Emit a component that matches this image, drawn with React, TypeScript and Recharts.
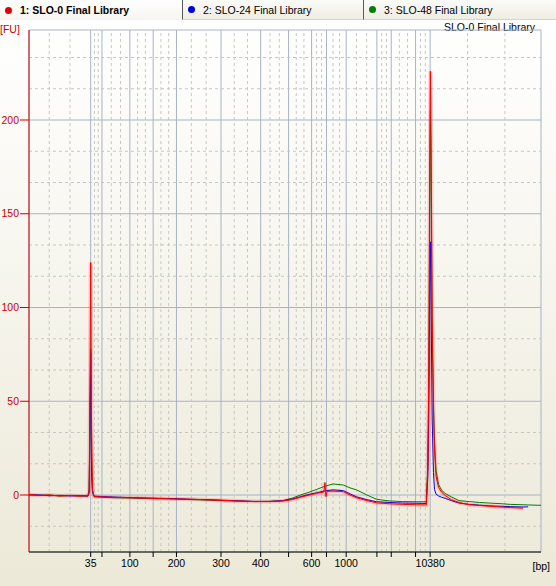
import React from "react";
import { CartesianGrid, Line, LineChart, ReferenceLine, XAxis, YAxis } from "recharts";

// migration time (s) of every sample point
const times = [
  30, 32, 34, 36, 38, 40, 41.5, 41.75, 41.9, 42.05, 42.2, 42.4, 42.7, 44, 47, 50, 53, 56, 59, 62, 65, 68,
  71, 74, 77, 79.6, 81.5, 83, 84.5, 86.2, 87.6, 87.8, 88.0, 88.2, 89.4, 91.4, 92.7, 94.0, 96.0, 97.9,
  100.5, 103, 105.75, 107.6, 107.9, 108.1, 108.25, 108.4, 108.55, 108.75, 109.0, 109.2, 109.5, 110,
  110.6, 111.3, 112.5, 114, 116, 118, 120, 122, 124, 126.5, 127.5, 130,
];

// fluorescence [FU]
const slo0 = [
  0.3, -0.2, 0.0, -0.5, -0.3, -0.6, -0.5, 2, 55, 124, 42, 3, -0.8, -1.0, -1.3, -1.5, -1.7, -1.9, -2.1, -2.3,
  -2.6, -2.9, -3.2, -3.5, -3.5, -3.2, -2.4, -1.2, -0.2, 0.9, 1.6, 6.6, -0.8, 1.9, 2.1, 1.8, 0.0, -1.5,
  -3.0, -4.2, -4.7, -5.0, -5.2, -5.3, 15, 70, 170, 226, 185, 95, 45, 24, 10, 4, 1.5, -0.3, -2.5, -4.0,
  -5.2, -5.6, -6.0, -6.4, -6.7, -7.0, null, null,
];
const slo24 = [
  0.0, 0.1, -0.4, -0.2, -0.5, -0.4, -0.6, 1, 38, 76, 12, 1.5, -0.6, -0.8, -1.1, -1.4, -1.6, -1.8, -2.0,
  -2.3, -2.5, -2.8, -3.1, -3.4, -3.4, -3.0, -2.1, -0.9, 0.2, 1.2, 2.1, 2.2, 2.3, 2.4, 2.7, 2.3, 0.6, -1.0,
  -2.5, -3.6, -4.0, -4.3, -4.4, -4.5, 10, 50, 110, 135, 95, 40, 12, 3, 0.5, -0.5, -1.2, -1.8, -3.0, -4.3,
  -5.0, -5.4, -5.8, -6.0, -6.2, -6.4, -6.3, null,
];
const slo48 = [
  0.2, -0.3, 0.0, -0.6, -0.2, -0.5, -0.4, 3, 34, 78, 20, 2, -0.9, -1.2, -1.5, -1.6, -1.9, -2.0, -2.2,
  -2.5, -2.7, -3.0, -3.3, -3.5, -3.4, -3.0, -1.6, 0, 1.3, 3.0, 4.5, 4.6, 4.8, 5.0, 5.9, 5.3, 3.8, 2.7,
  0, -2.3, -3.2, -3.5, -3.6, -3.6, 17, 65, 150, 205, 165, 88, 50, 28, 13, 5.5, 2.5, 0.8, -1.0, -3.0,
  -3.5, -4.0, -4.3, -4.6, -5.0, -5.2, -5.3, -5.5,
];

// ladder: fragment size and where it runs
const ladderBp = [35, 50, 100, 150, 200, 300, 400, 500, 600, 700, 1000, 2000, 3000, 7000, 10380];
const ladderTimes = [42.05, 44.25, 49.7, 54.25, 58.8, 67.5, 75.25, 80.7, 85.2, 88.1, 91.95, 97.95, 100.75, 105.5, 108.35];
const shownBp = [35, 100, 200, 300, 400, 600, 1000, 10380];
const outerGridTimes = [33.95, 38.0, 115.65, 122.95];
const fuTicks = [0, 50, 100, 150, 200];

const rows = times.map((t, i) => ({ t, slo0: slo0[i], slo24: slo24[i], slo48: slo48[i] }));

const minorX: number[] = [...outerGridTimes];
for (let i = 0; i < ladderTimes.length - 1; i++) {
  const a = ladderTimes[i];
  const b = ladderTimes[i + 1];
  minorX.push(a + (b - a) / 3, a + (2 * (b - a)) / 3);
}
const minorY: number[] = [];
for (let k = -1; k <= 14; k++) if (k % 3 !== 0) minorY.push((k * 50) / 3);

const FONT = '"Liberation Sans", Arial, sans-serif';
const AXIS_RED = "#cc0000";
const GRID = "#a9b2c4";
const DASH = "#c6c6c6";

const tabs = [
  { label: "1: SLO-0 Final Library", color: "#e00000", bold: true, width: 182 },
  { label: "2: SLO-24 Final Library", color: "#0000e0", bold: false, width: 181 },
  { label: "3: SLO-48 Final Library", color: "#008000", bold: false, width: 193 },
];

function Tabs() {
  return (
    <div style={{ position: "absolute", left: 0, top: 0, width: 556, height: 20, display: "flex", zIndex: 2 }}>
      {tabs.map((tb, i) => (
        <div
          key={i}
          style={{
            width: tb.width,
            height: 20,
            boxSizing: "border-box",
            borderLeft: i > 0 ? "1px solid #5a5a5a" : "none",
            borderBottom: i > 0 ? "1px solid #d8d5c6" : "none",
            background: i === 0 ? "linear-gradient(#ffffff, #f6f5ef)" : "linear-gradient(#fbfbf8, #efede3)",
            display: "flex",
            alignItems: "center",
            paddingLeft: 5,
            fontSize: 10.5,
            fontWeight: tb.bold ? 700 : 400,
            color: "#000",
          }}
        >
          <span style={{ width: 7, height: 7, borderRadius: "50%", background: tb.color, marginRight: 8 }} />
          {tb.label}
        </div>
      ))}
    </div>
  );
}

export default function App() {
  return (
    <div
      style={{
        position: "absolute",
        left: 0,
        top: 0,
        width: 556,
        height: 586,
        overflow: "hidden",
        fontFamily: FONT,
        background: "linear-gradient(#ffffff 4%, #ece9d8 100%)",
      }}
    >
      <Tabs />
      <div style={{ position: "absolute", left: 0, top: 23, fontSize: 10.5, color: AXIS_RED }}>[FU]</div>
      <div style={{ position: "absolute", right: 21, top: 21, fontSize: 10.5, color: "#000" }}>SLO-0 Final Library</div>
      <div style={{ position: "absolute", right: 6, top: 560, fontSize: 10.5, color: "#000" }}>[bp]</div>
      <LineChart width={556} height={586} data={rows} margin={{ top: 30, right: 15, bottom: 4, left: 0 }}>
        <CartesianGrid stroke={GRID} strokeWidth={1} />
        {minorX.map((x, i) => (
          <ReferenceLine key={`mx${i}`} x={x} stroke={DASH} strokeDasharray="3 3" />
        ))}
        {minorY.map((y, i) => (
          <ReferenceLine key={`my${i}`} y={y} stroke={DASH} strokeDasharray="3 3" />
        ))}
        <XAxis
          type="number"
          dataKey="t"
          domain={[30, 130]}
          ticks={ladderTimes}
          interval={0}
          allowDataOverflow
          height={30}
          stroke="#000"
          tickSize={5}
          tickMargin={3}
          tick={{ fill: "#000", fontSize: 10.5, fontFamily: FONT }}
          tickFormatter={(v: number) => {
            const i = ladderTimes.indexOf(v);
            const bp = ladderBp[i];
            return shownBp.includes(bp) ? String(bp) : "";
          }}
        />
        <YAxis
          type="number"
          domain={[-30.4, 248]}
          ticks={fuTicks}
          interval={0}
          allowDataOverflow
          width={29}
          stroke={AXIS_RED}
          tickSize={9}
          tickMargin={1}
          tick={{ fill: AXIS_RED, fontSize: 10.5, fontFamily: FONT }}
        />
        <Line dataKey="slo48" stroke="#008000" strokeWidth={1} dot={false} isAnimationActive={false} />
        <Line dataKey="slo24" stroke="#0000ff" strokeWidth={1} dot={false} isAnimationActive={false} />
        <Line dataKey="slo0" stroke="#ff0000" strokeOpacity={0.18} strokeWidth={4} dot={false} isAnimationActive={false} />
        <Line dataKey="slo0" stroke="#ff0000" strokeWidth={1} dot={false} isAnimationActive={false} />
      </LineChart>
    </div>
  );
}
